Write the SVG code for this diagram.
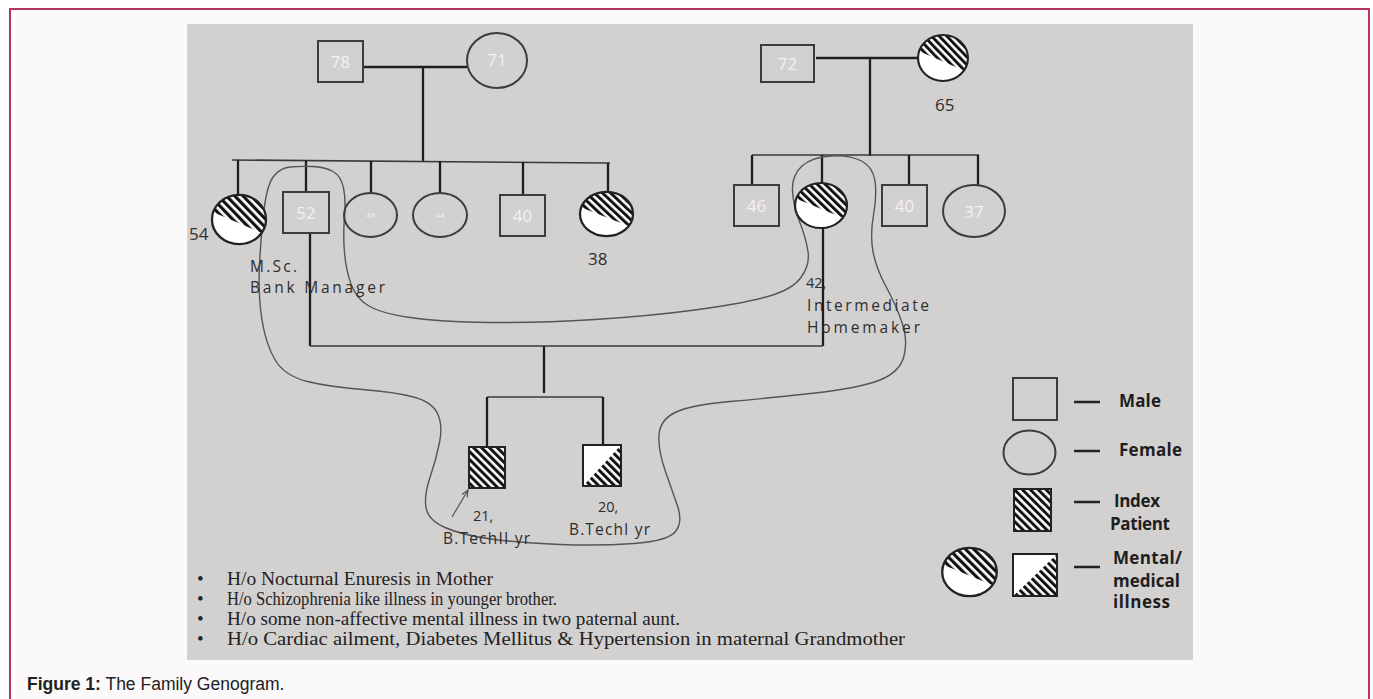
<svg xmlns="http://www.w3.org/2000/svg" xmlns:xlink="http://www.w3.org/1999/xlink" width="1373" height="699" viewBox="0 0 1373 699">
<style>
.ln{stroke:#1e1e1e;stroke-width:2.3;fill:none}
.sib{stroke:#3a3a3a;stroke-width:1.6;fill:none}
.sh{fill:none;stroke:#3c3c3c;stroke-width:2}
.wl{font-family:"Open Sans","Liberation Sans",sans-serif;font-size:17px;fill:#f2f2f2;text-anchor:middle}
.ws{font-family:"Open Sans","Liberation Sans",sans-serif;font-size:8px;fill:#f2f2f2;text-anchor:middle}
.lb{font-family:"Open Sans","Liberation Sans",sans-serif;font-size:15.5px;fill:#2e2e2e}
.sm{font-family:"Open Sans","Liberation Sans",sans-serif;font-size:14.5px;fill:#2e2e2e}
.num{font-family:"Open Sans","Liberation Sans",sans-serif;font-size:17px;fill:#2e2e2e}
.lg{font-family:"Open Sans","Liberation Sans",sans-serif;font-size:17px;font-weight:700;fill:#1e1e1e}
.bt{font-family:"Liberation Serif","Times New Roman",serif;font-size:19px;fill:#222}
.loop{fill:none;stroke:#555;stroke-width:1.4}
.dash{stroke:#222;stroke-width:2.5}
</style>
<defs>
<pattern id="hatch" patternUnits="userSpaceOnUse" width="5.6" height="5.6" patternTransform="rotate(-45)">
<rect width="5.6" height="5.6" fill="#fff"/>
<rect width="3" height="5.6" fill="#111"/>
</pattern>
<clipPath id="mcclip"><ellipse cx="0" cy="0" rx="26" ry="23"/></clipPath>
<g id="mc">
<ellipse cx="0" cy="0" rx="26" ry="23" fill="url(#hatch)"/>
<polygon points="-32,-9.8 32,16.8 32,30 -32,30" fill="#fff" clip-path="url(#mcclip)"/>
<ellipse cx="0" cy="0" rx="26" ry="23" fill="none" stroke="#222" stroke-width="2.2"/>
</g>
<marker id="arr" markerWidth="8" markerHeight="8" refX="7" refY="4" orient="auto" markerUnits="userSpaceOnUse">
<path d="M0,1 L7,4 L0,7" fill="none" stroke="#555" stroke-width="1.2"/>
</marker>
</defs>

<rect x="10" y="9" width="1359" height="720" fill="#fbf9fa" stroke="#b43760" stroke-width="2"/>
<rect x="187" y="24" width="1006" height="636" fill="#d3d0d0"/>

<g id="connectors">
<line class="ln" x1="363" y1="67" x2="467" y2="67"/>
<line class="ln" x1="423" y1="67" x2="423" y2="162"/>
<line class="sib" x1="232" y1="160" x2="610" y2="163"/>
<line class="ln" x1="238" y1="160" x2="238" y2="195"/>
<line class="ln" x1="306" y1="160" x2="306" y2="192"/>
<line class="ln" x1="371" y1="161" x2="371" y2="193"/>
<line class="ln" x1="440" y1="161" x2="440" y2="193"/>
<line class="ln" x1="523" y1="162" x2="523" y2="195"/>
<line class="ln" x1="608" y1="163" x2="608" y2="192"/>

<line class="ln" x1="816" y1="58" x2="918" y2="58"/>
<line class="ln" x1="870" y1="58" x2="870" y2="156"/>
<line class="sib" x1="752" y1="155" x2="979" y2="155"/>
<line class="ln" x1="752" y1="155" x2="752" y2="185"/>
<line class="ln" x1="822" y1="155" x2="822" y2="183"/>
<line class="ln" x1="909" y1="155" x2="909" y2="185"/>
<line class="ln" x1="978" y1="155" x2="978" y2="185"/>

<line class="ln" x1="310" y1="233" x2="310" y2="346"/>
<line class="ln" x1="823" y1="228" x2="823" y2="346"/>
<line class="sib" x1="310" y1="346" x2="823" y2="346"/>
<line class="ln" x1="544" y1="346" x2="544" y2="393"/>
<line class="sib" x1="487" y1="397" x2="603" y2="397"/>
<line class="ln" x1="487" y1="397" x2="487" y2="447"/>
<line class="ln" x1="603" y1="397" x2="603" y2="445"/>

<path class="loop" d="M290,167 Q300,166 312.5,166.5 Q325,167 333,171.5 Q341,176 343.5,188 Q346,200 344.5,217.5 Q343,235 344.5,252.5 Q346,270 351,284 Q356,298 368,305.5 Q380,313 410,317.5 Q440,322 490,322.5 Q540,323 595,319.5 Q650,316 695,310 Q740,304 766,297 Q792,290 801,277.5 Q810,265 808,251.5 Q806,238 799.5,221.5 Q793,205 792.5,190 Q792,175 802,166 Q812,157 831,156 Q850,155 861.5,161 Q873,167 875,181 Q877,195 873.5,215 Q870,235 873,251.5 Q876,268 886,286.5 Q896,305 902,322.5 Q908,340 904,356 Q900,372 880,380 Q860,388 815,393 Q770,398 730,401.5 Q690,405 675,412.5 Q660,420 659,435 Q658,450 665,470 Q672,490 677.5,506 Q683,522 675.5,531.5 Q668,541 634,543.5 Q600,546 560,544.5 Q520,543 491,539 Q462,535 445,527.5 Q428,520 426,507.5 Q424,495 430,477.5 Q436,460 439.5,442.5 Q443,425 437.5,413.5 Q432,402 413.5,397 Q395,392 362.5,389.5 Q330,387 307.5,381.5 Q285,376 275.5,360.5 Q266,345 262,320 Q258,295 259.5,265 Q261,235 264,210 Q267,185 273.5,176.5 Q280,168 290,167 Z"/>
<line x1="452" y1="517" x2="468" y2="490" stroke="#555" stroke-width="1.2" marker-end="url(#arr)"/>
</g>

<g id="n78"><rect class="sh" x="318" y="41" width="45" height="41"/><text class="wl" x="340.5" y="68">78</text></g>
<g id="n71"><ellipse class="sh" cx="497" cy="60.5" rx="30" ry="27.5"/><text class="wl" x="497" y="66">71</text></g>
<g id="n72"><rect class="sh" x="761" y="45" width="53" height="37"/><text class="wl" x="787.5" y="70">72</text></g>
<g id="n65"><use xlink:href="#mc" transform="translate(943,58) scale(0.96,1)"/><text class="num" x="935" y="111">65</text></g>

<g id="n54"><use xlink:href="#mc" transform="translate(239,219.5) scale(1.04,1.07)"/><text class="num" x="189" y="240">54</text></g>
<g id="n52"><rect class="sh" x="283" y="192" width="46" height="41"/><text class="wl" x="306" y="219">52</text>
<text class="lb" x="250" y="272" textLength="47">M.Sc.</text><text class="lb" x="250" y="293" textLength="135">Bank Manager</text></g>
<g id="n49"><ellipse class="sh" cx="370.5" cy="215" rx="26.5" ry="22"/><text class="ws" x="370.5" y="218">49</text></g>
<g id="n44"><ellipse class="sh" cx="440" cy="215" rx="27" ry="22"/><text class="ws" x="440" y="218">44</text></g>
<g id="n40a"><rect class="sh" x="500" y="195" width="45" height="41"/><text class="wl" x="522.5" y="222">40</text></g>
<g id="n38"><use xlink:href="#mc" transform="translate(606.5,214) scale(1.02,0.96)"/><text class="num" x="588" y="265">38</text></g>

<g id="n46"><rect class="sh" x="734" y="185" width="45" height="41"/><text class="wl" x="756.5" y="212">46</text></g>
<g id="n42"><use xlink:href="#mc" transform="translate(821,205.5) scale(1,0.98)"/>
<text class="sm" x="806" y="288">42,</text>
<text class="lb" x="807" y="311" textLength="122">Intermediate</text>
<text class="lb" x="807" y="333" textLength="113">Homemaker</text></g>
<g id="n40b"><rect class="sh" x="882" y="185" width="45" height="41"/><text class="wl" x="904.5" y="212">40</text></g>
<g id="n37"><ellipse class="sh" cx="974" cy="211" rx="31" ry="26"/><text class="wl" x="974" y="218">37</text></g>

<g id="n21"><rect x="469" y="447" width="36" height="41" fill="url(#hatch)" stroke="#222" stroke-width="2"/>
<text class="sm" x="473" y="521">21,</text>
<text class="lb" x="443" y="544" textLength="87">B.TechII yr</text></g>
<g id="n20"><polygon points="621,445 621,486 583,486" fill="url(#hatch)"/><polygon points="583,445 621,445 583,486" fill="#fff"/>
<rect x="583" y="445" width="38" height="41" fill="none" stroke="#222" stroke-width="2"/>
<text class="sm" x="598" y="512">20,</text>
<text class="lb" x="569" y="535" textLength="81">B.TechI yr</text></g>

<g id="legend">
<rect class="sh" x="1013" y="378" width="44" height="42"/>
<line class="dash" x1="1074" y1="402" x2="1100" y2="402"/>
<text class="lg" x="1119" y="407" textLength="42">Male</text>
<ellipse class="sh" cx="1029.5" cy="452.5" rx="26" ry="22"/>
<line class="dash" x1="1074" y1="451" x2="1100" y2="451"/>
<text class="lg" x="1119" y="456" textLength="63">Female</text>
<rect x="1014" y="489" width="37" height="42" fill="url(#hatch)" stroke="#222" stroke-width="2"/>
<line class="dash" x1="1074" y1="502" x2="1100" y2="502"/>
<text class="lg" x="1114" y="507" textLength="46">Index</text>
<text class="lg" x="1110" y="530" textLength="60">Patient</text>
<use xlink:href="#mc" transform="translate(969.5,572) scale(1.05,1.05)"/>
<polygon points="1057,554 1057,596 1013,596" fill="url(#hatch)"/><polygon points="1013,554 1057,554 1013,596" fill="#fff"/>
<rect x="1013" y="554" width="44" height="42" fill="none" stroke="#222" stroke-width="2"/>
<line class="dash" x1="1074" y1="567" x2="1100" y2="567"/>
<text class="lg" x="1113" y="564" textLength="69">Mental/</text>
<text class="lg" x="1113" y="587" textLength="67">medical</text>
<text class="lg" x="1113" y="608" textLength="57">illness</text>
</g>

<g id="notes">
<text class="bt" x="197" y="585">•</text><text class="bt" x="227" y="585" textLength="266" lengthAdjust="spacingAndGlyphs">H/o Nocturnal Enuresis in Mother</text>
<text class="bt" x="197" y="605">•</text><text class="bt" x="227" y="605" textLength="330" lengthAdjust="spacingAndGlyphs">H/o Schizophrenia like illness in younger brother.</text>
<text class="bt" x="197" y="625">•</text><text class="bt" x="227" y="625" textLength="453" lengthAdjust="spacingAndGlyphs">H/o some non-affective mental illness  in two paternal aunt.</text>
<text class="bt" x="197" y="645">•</text><text class="bt" x="227" y="645" textLength="678" lengthAdjust="spacingAndGlyphs">H/o Cardiac ailment, Diabetes Mellitus &amp; Hypertension in maternal Grandmother</text>
</g>

<text x="27" y="690" font-family="Liberation Sans, Arial, sans-serif" font-size="17.5" fill="#222"><tspan font-weight="700">Figure 1:</tspan> The Family Genogram.</text>
</svg>
